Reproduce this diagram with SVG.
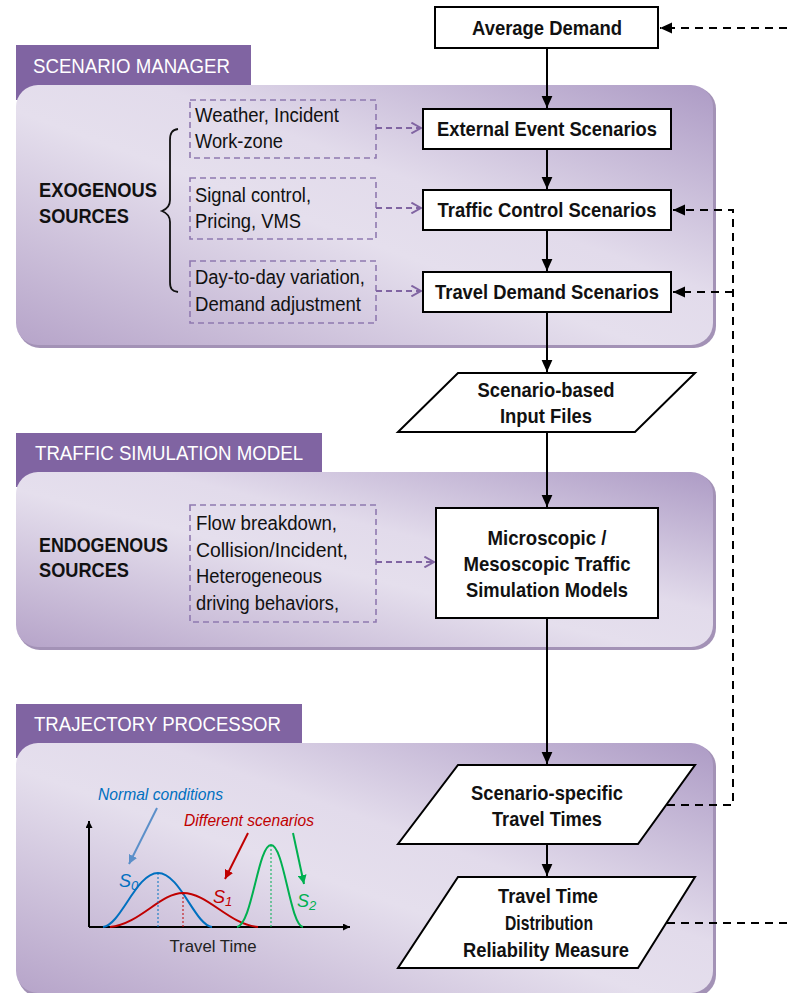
<svg xmlns="http://www.w3.org/2000/svg" width="787" height="993" viewBox="0 0 787 993">
<defs>
<linearGradient id="pg" x1="0" y1="1" x2="1" y2="0">
<stop offset="0" stop-color="#b6a4c9"/>
<stop offset="0.45" stop-color="#e5dfed"/>
<stop offset="0.6" stop-color="#e2dbeb"/>
<stop offset="1" stop-color="#ad9bc5"/>
</linearGradient>
<marker id="ah" viewBox="0 0 10 10" refX="10" refY="5" markerWidth="7" markerHeight="7" orient="auto" markerUnits="userSpaceOnUse">
<path d="M0,0 L10,5 L0,10 z" fill="#000"/>
</marker>
<marker id="ahb" viewBox="0 0 10 10" refX="10" refY="5" markerWidth="12" markerHeight="12" orient="auto" markerUnits="userSpaceOnUse">
<path d="M0,0.5 L10,5 L0,9.5 z" fill="#000"/>
</marker>
<marker id="ahp" viewBox="0 0 10 10" refX="9" refY="5" markerWidth="12" markerHeight="12" orient="auto" markerUnits="userSpaceOnUse">
<path d="M1,0.5 L9,5 L1,9.5" fill="none" stroke="#8064a2" stroke-width="1.6"/>
</marker>
<marker id="ahc" viewBox="0 0 10 10" refX="10" refY="5" markerWidth="9" markerHeight="9" orient="auto" markerUnits="userSpaceOnUse">
<path d="M0,0 L10,5 L0,10 z" fill="context-stroke"/>
</marker>
</defs>
<style>
text{font-family:"Liberation Sans",Arial,sans-serif;}
.panel{fill:url(#pg);}
.shadow{fill:#a392b6;}
.tab{fill:#8064a2;}
.tabt{font-size:20px;fill:#fff;}
.box{fill:#fff;stroke:#000;stroke-width:2;}
.bt{font-size:21px;font-weight:bold;fill:#111;text-anchor:middle;}
.st{font-size:20px;fill:#111;}
.lt{font-size:20px;font-weight:bold;fill:#111;}
.ct{font-size:17px;font-style:italic;}
.dbox{fill:none;stroke:#8f79b0;stroke-width:1.6;stroke-dasharray:6,4;}
.pa{fill:none;stroke:#8064a2;stroke-width:2;stroke-dasharray:6,4;marker-end:url(#ahp);}
.ka{fill:none;stroke:#000;stroke-width:2;marker-end:url(#ahb);}
.fb{fill:none;stroke:#000;stroke-width:2;stroke-dasharray:8,6;}
</style>

<g id="panel-scenario-manager">
<rect class="shadow" x="18" y="87" width="698" height="261" rx="22"/>
<rect class="tab" x="16" y="45" width="235" height="40"/>
<rect class="tab" x="16" y="84" width="22" height="16"/>
<rect class="panel" x="16" y="85" width="697" height="260" rx="22"/>
<text class="tabt" x="33" y="73" textLength="197" lengthAdjust="spacingAndGlyphs">SCENARIO MANAGER</text>
</g>
<g id="panel-traffic-simulation">
<rect class="shadow" x="18" y="474" width="698" height="176" rx="22"/>
<rect class="tab" x="16" y="433" width="306" height="40"/>
<rect class="tab" x="16" y="471" width="22" height="16"/>
<rect class="panel" x="16" y="472" width="697" height="175" rx="22"/>
<text class="tabt" x="35" y="460" textLength="268" lengthAdjust="spacingAndGlyphs">TRAFFIC SIMULATION MODEL</text>
</g>
<g id="panel-trajectory-processor">
<rect class="shadow" x="18" y="745" width="698" height="252" rx="22"/>
<rect class="tab" x="16" y="704" width="286" height="40"/>
<rect class="tab" x="16" y="742" width="22" height="16"/>
<rect class="panel" x="16" y="743" width="697" height="250" rx="22"/>
<text class="tabt" x="34" y="731" textLength="247" lengthAdjust="spacingAndGlyphs">TRAJECTORY PROCESSOR</text>
</g>

<g id="exogenous">
<text class="lt" x="39" y="197" textLength="118" lengthAdjust="spacingAndGlyphs">EXOGENOUS</text>
<text class="lt" x="39" y="223" textLength="90" lengthAdjust="spacingAndGlyphs">SOURCES</text>
<path d="M178,129 C172,130 170,133 170,140 L170,200 C170,206 167,209 162,211 C167,213 170,216 170,222 L170,282 C170,289 172,291 178,292" fill="none" stroke="#111" stroke-width="1.8"/>
</g>
<g id="src-weather">
<rect class="dbox" x="190" y="100" width="186" height="58"/>
<text class="st" x="195" y="122" textLength="144" lengthAdjust="spacingAndGlyphs">Weather, Incident</text>
<text class="st" x="195" y="148" textLength="88" lengthAdjust="spacingAndGlyphs">Work-zone</text>
</g>
<g id="src-signal">
<rect class="dbox" x="190" y="178" width="186" height="61"/>
<text class="st" x="195" y="202" textLength="116" lengthAdjust="spacingAndGlyphs">Signal control,</text>
<text class="st" x="195" y="228" textLength="106" lengthAdjust="spacingAndGlyphs">Pricing, VMS</text>
</g>
<g id="src-demand">
<rect class="dbox" x="190" y="261" width="186" height="62"/>
<text class="st" x="195" y="284" textLength="170" lengthAdjust="spacingAndGlyphs">Day-to-day variation,</text>
<text class="st" x="195" y="311" textLength="166" lengthAdjust="spacingAndGlyphs">Demand adjustment</text>
</g>
<g id="endogenous">
<text class="lt" x="39" y="552" textLength="129" lengthAdjust="spacingAndGlyphs">ENDOGENOUS</text>
<text class="lt" x="39" y="577" textLength="90" lengthAdjust="spacingAndGlyphs">SOURCES</text>
</g>
<g id="src-endo">
<rect class="dbox" x="190" y="505" width="186" height="117"/>
<text class="st" x="196" y="530" textLength="141" lengthAdjust="spacingAndGlyphs">Flow breakdown,</text>
<text class="st" x="196" y="557" textLength="152" lengthAdjust="spacingAndGlyphs">Collision/Incident,</text>
<text class="st" x="196" y="583" textLength="126" lengthAdjust="spacingAndGlyphs">Heterogeneous</text>
<text class="st" x="196" y="610" textLength="143" lengthAdjust="spacingAndGlyphs">driving behaviors,</text>
</g>

<g id="average-demand">
<rect class="box" x="435" y="7" width="223" height="41"/>
<text class="bt" x="547" y="35" textLength="150" lengthAdjust="spacingAndGlyphs">Average Demand</text>
</g>
<g id="external-event">
<rect class="box" x="423" y="109" width="248" height="40"/>
<text class="bt" x="547" y="136" textLength="220" lengthAdjust="spacingAndGlyphs">External Event Scenarios</text>
</g>
<g id="traffic-control">
<rect class="box" x="423" y="190" width="248" height="40"/>
<text class="bt" x="547" y="217" textLength="219" lengthAdjust="spacingAndGlyphs">Traffic Control Scenarios</text>
</g>
<g id="travel-demand">
<rect class="box" x="423" y="272" width="248" height="40"/>
<text class="bt" x="547" y="299" textLength="224" lengthAdjust="spacingAndGlyphs">Travel Demand Scenarios</text>
</g>
<g id="input-files">
<polygon class="box" points="458,373 695,373 635,432 398,432"/>
<text class="bt" x="546" y="397" textLength="137" lengthAdjust="spacingAndGlyphs">Scenario-based</text>
<text class="bt" x="546" y="423" textLength="92" lengthAdjust="spacingAndGlyphs">Input Files</text>
</g>
<g id="simulation-models">
<rect class="box" x="436" y="508" width="222" height="110"/>
<text class="bt" x="547" y="545" textLength="119" lengthAdjust="spacingAndGlyphs">Microscopic /</text>
<text class="bt" x="547" y="571" textLength="167" lengthAdjust="spacingAndGlyphs">Mesoscopic Traffic</text>
<text class="bt" x="547" y="597" textLength="162" lengthAdjust="spacingAndGlyphs">Simulation Models</text>
</g>
<g id="travel-times">
<polygon class="box" points="458,765 695,765 638,844 398,844"/>
<text class="bt" x="547" y="800" textLength="152" lengthAdjust="spacingAndGlyphs">Scenario-specific</text>
<text class="bt" x="547" y="826" textLength="110" lengthAdjust="spacingAndGlyphs">Travel Times</text>
</g>
<g id="distribution">
<polygon class="box" points="458,877 695,877 638,968 398,968"/>
<text class="bt" x="548" y="903" textLength="100" lengthAdjust="spacingAndGlyphs">Travel Time</text>
<text class="bt" x="549" y="930" textLength="88" lengthAdjust="spacingAndGlyphs">Distribution</text>
<text class="bt" x="546" y="957" textLength="166" lengthAdjust="spacingAndGlyphs">Reliability Measure</text>
</g>

<g id="chart">
<line x1="89" y1="927" x2="89" y2="821" stroke="#000" stroke-width="2" marker-end="url(#ah)"/>
<line x1="89" y1="927" x2="350" y2="927" stroke="#000" stroke-width="2" marker-end="url(#ah)"/>
<path d="M103,927 C121,925 136,873 158,873 C180,873 195,925 212,927" fill="none" stroke="#0070c0" stroke-width="2"/>
<path d="M110,927 C140,924 160,893 183,893 C208,893 228,924 258,927" fill="none" stroke="#c00000" stroke-width="2"/>
<path d="M237,927 C252,925 258,845 271,845 C284,845 290,925 303,927" fill="none" stroke="#00b050" stroke-width="2"/>
<line x1="158" y1="873" x2="158" y2="927" stroke="#0070c0" stroke-width="1" stroke-dasharray="2,2"/>
<line x1="183" y1="893" x2="183" y2="927" stroke="#c00000" stroke-width="1" stroke-dasharray="2,2"/>
<line x1="271" y1="845" x2="271" y2="927" stroke="#00b050" stroke-width="1" stroke-dasharray="2,2"/>
<line x1="157" y1="808" x2="129" y2="864" stroke="#5b8fc9" stroke-width="2" marker-end="url(#ahc)"/>
<line x1="248" y1="833" x2="225" y2="879" stroke="#c00000" stroke-width="2" marker-end="url(#ahc)"/>
<line x1="293" y1="833" x2="304" y2="884" stroke="#00b050" stroke-width="2" marker-end="url(#ahc)"/>
<text class="ct" x="98" y="800" fill="#0070c0" textLength="125" lengthAdjust="spacingAndGlyphs">Normal conditions</text>
<text class="ct" x="184" y="826" fill="#c00000" textLength="130" lengthAdjust="spacingAndGlyphs">Different scenarios</text>
<text x="119" y="887" font-size="18" font-style="italic" fill="#0070c0">S<tspan font-size="13" dy="3">0</tspan></text>
<text x="213" y="903" font-size="18" font-style="italic" fill="#c00000">S<tspan font-size="13" dy="3">1</tspan></text>
<text x="297" y="907" font-size="18" font-style="italic" fill="#00b050">S<tspan font-size="13" dy="3">2</tspan></text>
<text x="213" y="952" text-anchor="middle" font-size="17" fill="#222" textLength="87" lengthAdjust="spacingAndGlyphs">Travel Time</text>
</g>

<g id="connectors">
<line class="ka" x1="547" y1="48" x2="547" y2="108"/>
<line class="ka" x1="547" y1="149" x2="547" y2="189"/>
<line class="ka" x1="547" y1="230" x2="547" y2="271"/>
<line class="ka" x1="547" y1="312" x2="547" y2="372"/>
<line class="ka" x1="547" y1="432" x2="547" y2="507"/>
<line class="ka" x1="547" y1="618" x2="547" y2="764"/>
<line class="ka" x1="547" y1="844" x2="547" y2="876"/>
<line class="pa" x1="376" y1="128" x2="421" y2="128"/>
<line class="pa" x1="376" y1="208" x2="421" y2="208"/>
<line class="pa" x1="376" y1="291" x2="421" y2="291"/>
<line class="pa" x1="376" y1="562" x2="434" y2="562"/>
<polyline class="fb" points="667,805 733,805 733,210 673,210" marker-end="url(#ahb)"/>
<line class="fb" x1="733" y1="292" x2="673" y2="292" marker-end="url(#ahb)"/>
<line class="fb" x1="667" y1="923" x2="787" y2="923"/>
<line class="fb" x1="787" y1="28" x2="660" y2="28" marker-end="url(#ahb)"/>
</g>
</svg>
